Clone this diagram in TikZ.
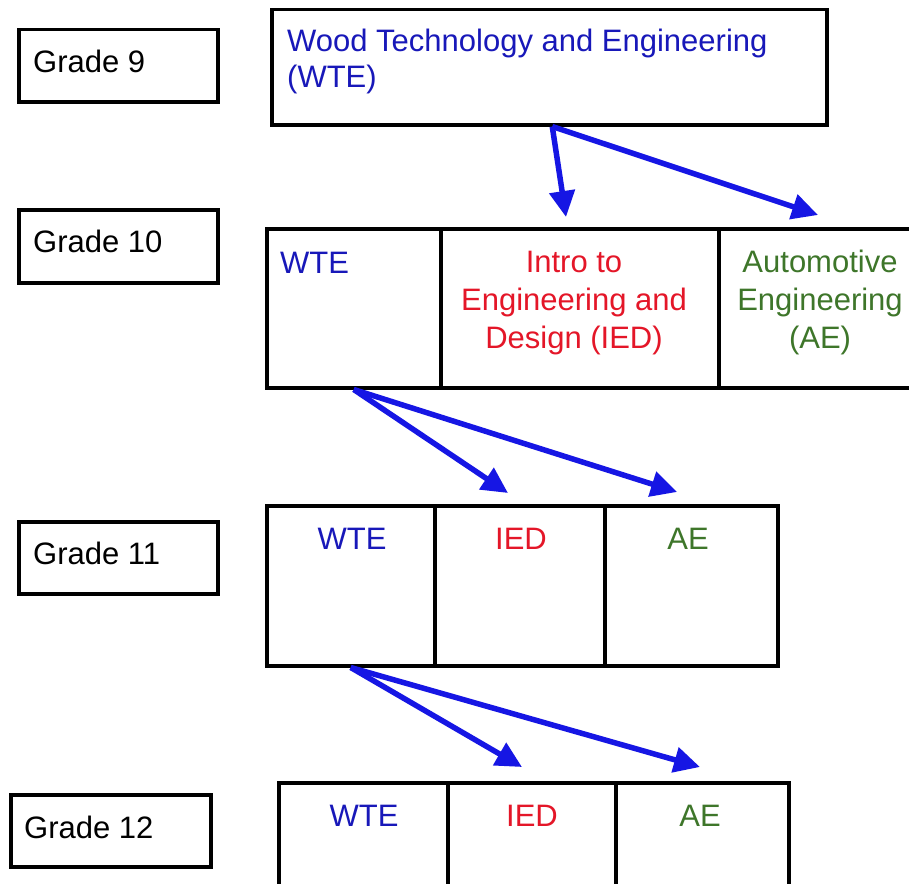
\documentclass[tikz,border=0pt]{standalone}
\usepackage{fontspec}
\setmainfont{Liberation Sans}
\usetikzlibrary{arrows.meta}
\definecolor{tblue}{RGB}{24,24,185}
\definecolor{tred}{RGB}{228,22,40}
\definecolor{tgreen}{RGB}{62,118,42}
\definecolor{ablue}{RGB}{22,22,228}
\begin{document}
\begin{tikzpicture}[x=1pt,y=-1pt,
  boxx/.style={draw=black,line width=3.5pt,rectangle,inner sep=0pt,anchor=north west},
  txt/.style={inner sep=0pt,font=\fontsize{31}{37}\selectfont},
  flow/.style={draw=ablue,line width=5.5pt,-{Triangle[length=26pt,width=25pt]}}]
\useasboundingbox (0,0) rectangle (909,883);
\fill[white] (0,0) rectangle (909,883);
% grade label boxes
\node[boxx,minimum width=199pt,minimum height=72pt] (g9) at (17,28) {};
\node[boxx,minimum width=199pt,minimum height=73pt] (g10) at (17,208) {};
\node[boxx,minimum width=199pt,minimum height=72pt] (g11) at (17,520) {};
\node[boxx,minimum width=200pt,minimum height=72pt] (g12) at (9,793) {};
\node[txt,anchor=base west] (t9) at (33,72) {Grade 9};
\node[txt,anchor=base west] (t10) at (33,252) {Grade 10};
\node[txt,anchor=base west] (t11) at (33,564) {Grade 11};
\node[txt,anchor=base west] (t12) at (24,838) {Grade 12};
% grade 9
\node[boxx,minimum width=555pt,minimum height=115pt] (w9) at (270,8) {};
\node[txt,anchor=base west,text=tblue] (w9a) at (287,52) {Wood Technology and Engineering};
\node[txt,anchor=base west,text=tblue] (w9b) at (287,87) {(WTE)};
% grade 10
\node[boxx,minimum width=174pt,minimum height=159pt] (w10) at (265,227) {};
\node[boxx,minimum width=278pt,minimum height=159pt] (i10) at (439,227) {};
\node[boxx,minimum width=200pt,minimum height=159pt] (a10) at (717,227) {};
\node[txt,anchor=base west,text=tblue] (w10t) at (280,273) {WTE};
\node[txt,anchor=base,text=tred] (i10a) at (574,272) {Intro to};
\node[txt,anchor=base,text=tred] (i10b) at (574,310) {Engineering and};
\node[txt,anchor=base,text=tred] (i10c) at (574,348) {Design (IED)};
\node[txt,anchor=base,text=tgreen] (a10a) at (820,272) {Automotive};
\node[txt,anchor=base,text=tgreen] (a10b) at (820,310) {Engineering};
\node[txt,anchor=base,text=tgreen] (a10c) at (820,348) {(AE)};
% grade 11
\node[boxx,minimum width=168pt,minimum height=160pt] (w11) at (265,504) {};
\node[boxx,minimum width=170pt,minimum height=160pt] (i11) at (433,504) {};
\node[boxx,minimum width=173pt,minimum height=160pt] (a11) at (603,504) {};
\node[txt,anchor=base,text=tblue] (w11t) at (352,549) {WTE};
\node[txt,anchor=base,text=tred] (i11t) at (521,549) {IED};
\node[txt,anchor=base,text=tgreen] (a11t) at (688,549) {AE};
% grade 12
\node[boxx,minimum width=169pt,minimum height=130pt] (w12) at (277,781) {};
\node[boxx,minimum width=168pt,minimum height=130pt] (i12) at (446,781) {};
\node[boxx,minimum width=173pt,minimum height=130pt] (a12) at (614,781) {};
\node[txt,anchor=base,text=tblue] (w12t) at (364,826) {WTE};
\node[txt,anchor=base,text=tred] (i12t) at (532,826) {IED};
\node[txt,anchor=base,text=tgreen] (a12t) at (700,826) {AE};
% arrow tips
\coordinate (p1) at (566,217);
\coordinate (p2) at (818,215);
\coordinate (p3) at (508,493);
\coordinate (p4) at (677,492);
\coordinate (p5) at (522,767);
\coordinate (p6) at (700,767);
\coordinate (s9) at ([xshift=3pt]w9.south);
\draw[flow] (s9) -- (p1);
\draw[flow] (s9) -- (p2);
\draw[flow] (w10.south) -- (p3);
\draw[flow] (w10.south) -- (p4);
\draw[flow] (w11.south) -- (p5);
\draw[flow] (w11.south) -- (p6);
\end{tikzpicture}
\end{document}
